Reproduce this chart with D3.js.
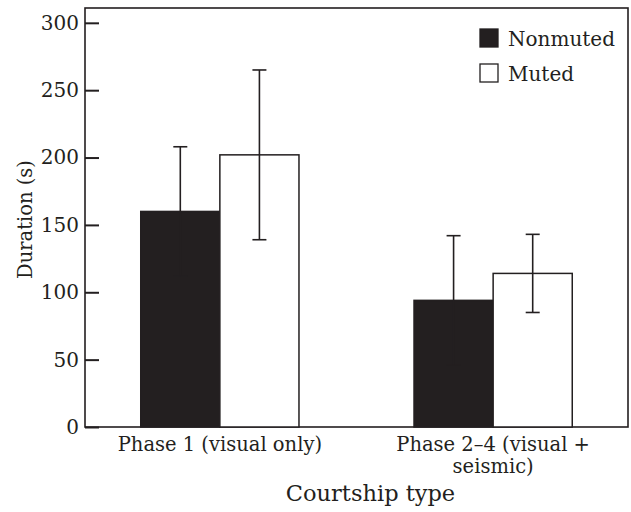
<!DOCTYPE html>
<html>
<head>
<meta charset="utf-8">
<script src="https://cdn.jsdelivr.net/npm/d3@7"></script>
<style>
  body { margin: 0; background: #fff; }
  svg text { font-family: "DejaVu Serif", serif; fill: #231f20; }
</style>
</head>
<body>
<svg id="chart" width="631" height="512"></svg>
<script>
const categories = ['Phase 1 (visual only)', 'Phase 2–4 (visual + seismic)'];
const categoryLines = [['Phase 1 (visual only)'], ['Phase 2–4 (visual +', 'seismic)']];
const series = ['Nonmuted', 'Muted'];
const nonmuted = [160, 94];
const nonmutedErr = [48, 48];
const muted = [202, 114];
const mutedErr = [63, 29];
const yTicks = [0, 50, 100, 150, 200, 250, 300];

const ink = '#231f20';
const width = 631, height = 512,
  margin = {top: 8, right: 3, bottom: 85, left: 85};

const svg = d3.select('#chart');

const rows = categories.map((c, i) => ({
  cat: c,
  vals: [
    {key: 'Nonmuted', value: nonmuted[i], err: nonmutedErr[i]},
    {key: 'Muted', value: muted[i], err: mutedErr[i]}
  ]
}));

const x0 = d3.scaleBand()
  .domain(categories)
  .range([margin.left, width - margin.right])
  .paddingInner(0.421)
  .paddingOuter(0.204);

const x1 = d3.scaleBand()
  .domain(series)
  .range([0, x0.bandwidth()]);

const y = d3.scaleLinear()
  .domain([0, 311])
  .range([height - margin.bottom, margin.top]);

const fill = d3.scaleOrdinal().domain(series).range([ink, '#fff']);

// frame
svg.append('rect')
  .attr('x', margin.left)
  .attr('y', margin.top)
  .attr('width', width - margin.right - margin.left)
  .attr('height', height - margin.bottom - margin.top)
  .attr('fill', 'none')
  .attr('stroke', ink)
  .attr('stroke-width', 1.6);

// bars
const groups = svg.selectAll('g.grp')
  .data(rows)
  .join('g')
    .attr('class', 'grp')
    .attr('transform', d => `translate(${x0(d.cat)},0)`);

groups.selectAll('rect')
  .data(d => d.vals)
  .join('rect')
    .attr('x', d => x1(d.key))
    .attr('y', d => y(d.value))
    .attr('width', x1.bandwidth())
    .attr('height', d => y(0) - y(d.value))
    .attr('fill', d => fill(d.key))
    .attr('stroke', ink)
    .attr('stroke-width', 1.5);

// error bars
const cap = 7;
const eb = groups.selectAll('g.err')
  .data(d => d.vals)
  .join('g')
    .attr('class', 'err')
    .attr('transform', d => `translate(${x1(d.key) + x1.bandwidth() / 2},0)`)
    .attr('stroke', ink)
    .attr('stroke-width', 1.6);

eb.append('line')
  .attr('y1', d => y(d.value - d.err))
  .attr('y2', d => y(d.value + d.err));
eb.append('line')
  .attr('x1', -cap).attr('x2', cap)
  .attr('y1', d => y(d.value + d.err))
  .attr('y2', d => y(d.value + d.err));
eb.append('line')
  .attr('x1', -cap).attr('x2', cap)
  .attr('y1', d => y(d.value - d.err))
  .attr('y2', d => y(d.value - d.err));

// y axis
const yAxis = svg.append('g')
  .attr('transform', `translate(${margin.left},0)`)
  .call(d3.axisLeft(y).tickValues(yTicks).tickSizeInner(-14).tickSizeOuter(0).tickPadding(6));
yAxis.select('.domain').remove();
yAxis.selectAll('.tick line').attr('stroke', ink).attr('stroke-width', 2);
yAxis.selectAll('.tick text')
  .attr('font-family', '"DejaVu Serif", serif')
  .attr('font-size', 20)
  .attr('fill', ink);

// x category labels
const xl = svg.append('g');
categories.forEach((c, i) => {
  const t = xl.append('text')
    .attr('x', x0(c) + x0.bandwidth() / 2)
    .attr('y', height - margin.bottom + 24)
    .attr('text-anchor', 'middle')
    .attr('font-size', 19.5);
  categoryLines[i].forEach((ln, j) => {
    t.append('tspan')
      .attr('x', x0(c) + x0.bandwidth() / 2)
      .attr('dy', j === 0 ? 0 : 22)
      .text(ln);
  });
});

// axis titles
svg.append('text')
  .attr('x', (margin.left + width - margin.right) / 2 + 14)
  .attr('y', height - 11)
  .attr('text-anchor', 'middle')
  .attr('font-size', 22.5)
  .text('Courtship type');

svg.append('text')
  .attr('transform', `translate(32,${(margin.top + height - margin.bottom) / 2 + 2}) rotate(-90)`)
  .attr('text-anchor', 'middle')
  .attr('font-size', 19.5)
  .text('Duration (s)');

// legend
const legend = svg.append('g')
  .attr('transform', 'translate(480,29)');
const li = legend.selectAll('g')
  .data(series)
  .join('g')
    .attr('transform', (d, i) => `translate(0,${i * 35})`);
li.append('rect')
  .attr('width', 18)
  .attr('height', 18)
  .attr('fill', d => fill(d))
  .attr('stroke', ink)
  .attr('stroke-width', 1.3);
li.append('text')
  .attr('x', 28)
  .attr('y', 17)
  .attr('font-size', 20)
  .text(d => d);
</script>
</body>
</html>
